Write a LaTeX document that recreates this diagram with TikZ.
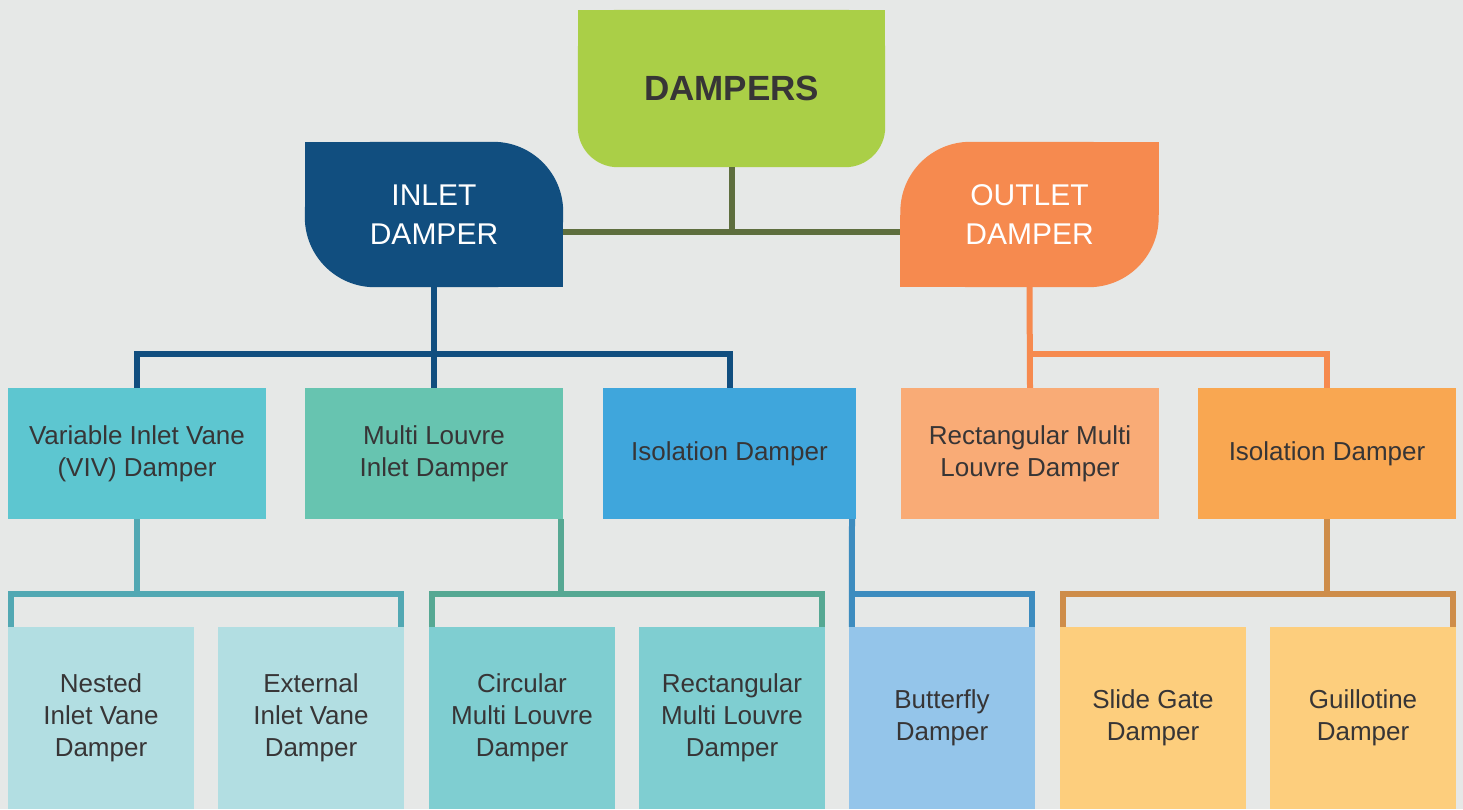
\documentclass[tikz,border=0pt]{standalone}
\usepackage{fontspec}
\setmainfont{Liberation Sans}
\usetikzlibrary{backgrounds}

\definecolor{bgc}{HTML}{E6E8E7}
\definecolor{txtc}{HTML}{373536}
\definecolor{dampc}{HTML}{AACF47}
\definecolor{inletc}{HTML}{114E7F}
\definecolor{outletc}{HTML}{F68A4F}
\definecolor{vivc}{HTML}{5DC6D0}
\definecolor{mlvc}{HTML}{67C4B0}
\definecolor{isoBc}{HTML}{3FA6DC}
\definecolor{rmlc}{HTML}{F9AB76}
\definecolor{isoOc}{HTML}{F9A751}
\definecolor{vanec}{HTML}{B2DEE2}
\definecolor{louvc}{HTML}{7FCED1}
\definecolor{butc}{HTML}{94C5EA}
\definecolor{gatec}{HTML}{FDCE7D}
\definecolor{rootln}{HTML}{5E6E3E}
\definecolor{vivln}{HTML}{52A8B3}
\definecolor{mlvln}{HTML}{56A893}
\definecolor{isoBln}{HTML}{3D8CBF}
\definecolor{isoOln}{HTML}{CE8D4A}

\begin{document}
\begin{tikzpicture}[x=1pt,y=-1pt,
  box/.style={rectangle, inner sep=0pt, align=center, text=txtc,
    font=\fontsize{26}{32}\selectfont},
  midbox/.style={box, minimum width=258, minimum height=131},
  lowbox/.style={box, minimum width=186, minimum height=182},
  headbox/.style={rectangle, inner sep=0pt, align=center, text=white,
    minimum width=258, minimum height=145, font=\fontsize{30}{39}\selectfont},
  link/.style={line width=6pt, line join=miter}]

\useasboundingbox (0,0) rectangle (1463,809);

% top level
\node[rectangle, inner sep=0pt, minimum width=307, minimum height=157,
  text=txtc, font=\fontsize{35}{40}\selectfont\bfseries] (damp) at (731.5,88.5) {DAMPERS};
\node[headbox] (inlet) at (434,214.5) {INLET\\DAMPER};
\node[headbox] (outlet) at (1029.5,214.5) {OUTLET\\DAMPER};

% second level
\node[midbox, fill=vivc] (viv) at (137,453.5) {Variable Inlet Vane\\(VIV) Damper};
\node[midbox, fill=mlvc] (mlv) at (434,453.5) {Multi Louvre\\Inlet Damper};
\node[midbox, fill=isoBc, minimum width=253] (isoB) at (729.5,453.5) {Isolation Damper};
\node[midbox, fill=rmlc] (rml) at (1030,453.5) {Rectangular Multi\\Louvre Damper};
\node[midbox, fill=isoOc] (isoO) at (1327,453.5) {Isolation Damper};

% third level
\node[lowbox, fill=vanec] (nest) at (101,718) {Nested\\Inlet Vane\\Damper};
\node[lowbox, fill=vanec] (ext) at (311,718) {External\\Inlet Vane\\Damper};
\node[lowbox, fill=louvc] (circ) at (522,718) {Circular\\Multi Louvre\\Damper};
\node[lowbox, fill=louvc] (rect) at (732,718) {Rectangular\\Multi Louvre\\Damper};
\node[lowbox, fill=butc] (butt) at (942,718) {Butterfly\\Damper};
\node[lowbox, fill=gatec] (slide) at (1153,718) {Slide Gate\\Damper};
\node[lowbox, fill=gatec] (guil) at (1363,718) {Guillotine\\Damper};

\begin{pgfonlayer}{background}
  \fill[bgc] (0,0) rectangle (1463,809);
  % root: square top, rounded bottom
  \fill[dampc, rounded corners=40] (damp.north west) rectangle (damp.south east);
  \fill[dampc] (damp.north west) rectangle (damp.east);
  % inlet: rounded top right and bottom left
  \fill[inletc, rounded corners=70] (inlet.north west) rectangle (inlet.south east);
  \fill[inletc] (inlet.north west) rectangle (inlet.center);
  \fill[inletc] (inlet.center) rectangle (inlet.south east);
  % outlet: rounded top left and bottom right
  \fill[outletc, rounded corners=70] (outlet.north west) rectangle (outlet.south east);
  \fill[outletc] (outlet.center) rectangle (outlet.north east);
  \fill[outletc] (outlet.center) rectangle (outlet.south west);
\end{pgfonlayer}

% junction points of the connectors
\coordinate (tbar) at (731.5,232);
\coordinate (ibar) at (434,354);
\coordinate (obar) at (1030,354);
\coordinate (vbar) at (137,594);
\coordinate (mbar) at (561,594);
\coordinate (bbar) at (852,594);
\coordinate (gbar) at (1327,594);

% root connectors
\draw[link, rootln] (damp.south) -- (tbar);
\draw[link, rootln] (inlet.east |- tbar) -- (outlet.west |- tbar);

% inlet connectors
\draw[link, inletc] (inlet.south) -- (mlv.north);
\draw[link, inletc] (viv.north) |- (ibar) -| (isoB.north);

% outlet connectors
\draw[link, outletc] (outlet.south) -- (rml.north);
\draw[link, outletc] ([xshift=-3]obar) -| (isoO.north);

% VIV children
\draw[link, vivln] (viv.south) -- (vbar);
\draw[link, vivln] ([xshift=3]nest.north west) |- (vbar) -| ([xshift=-3]ext.north east);

% multi louvre children
\draw[link, mlvln] (mlv.south -| mbar) -- (mbar);
\draw[link, mlvln] ([xshift=3]circ.north west) |- (mbar) -| ([xshift=-3]rect.north east);

% isolation (inlet) child
\draw[link, isoBln] (isoB.south -| bbar) -- ([xshift=3]butt.north west);
\draw[link, isoBln] (bbar) -| ([xshift=-3]butt.north east);

% isolation (outlet) children
\draw[link, isoOln] (isoO.south) -- (gbar);
\draw[link, isoOln] ([xshift=3]slide.north west) |- (gbar) -| ([xshift=-3]guil.north east);

\end{tikzpicture}
\end{document}
